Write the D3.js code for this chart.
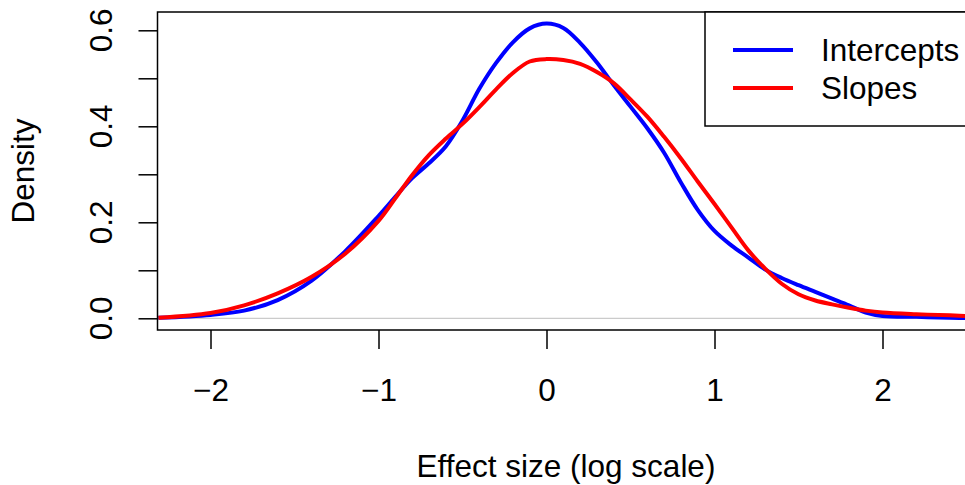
<!DOCTYPE html>
<html>
<head>
<meta charset="utf-8">
<script src="https://cdn.jsdelivr.net/npm/d3@7"></script>
<style>
  body { margin: 0; background: #fff; }
  text { font-family: "Liberation Sans", Arial, sans-serif; }
</style>
</head>
<body>
<div class="vis-density"></div>
<script>
// density curves
const xGrid = [-2.31, -2.0, -1.8, -1.6, -1.4, -1.2, -1.0, -0.9, -0.8, -0.7, -0.6, -0.5, -0.4, -0.3, -0.2, -0.1,
    0, 0.1, 0.2, 0.3, 0.4, 0.5, 0.6, 0.7, 0.8, 0.9, 1.0, 1.1, 1.2, 1.3, 1.4, 1.5, 1.6, 1.7, 1.8, 1.9, 2.0, 2.2, 2.4, 2.55];
const intercepts = [0.001, 0.007, 0.016, 0.038, 0.078, 0.139, 0.213, 0.253, 0.292, 0.323, 0.358, 0.412, 0.478, 0.532, 0.575, 0.604,
    0.614, 0.605, 0.574, 0.533, 0.486, 0.441, 0.396, 0.345, 0.283, 0.226, 0.182, 0.152, 0.127, 0.102, 0.084, 0.069, 0.055, 0.041, 0.027, 0.012, 0.005, 0.003, 0.001, 0.0];
const slopes = [0.001, 0.011, 0.027, 0.052, 0.086, 0.134, 0.203, 0.250, 0.298, 0.340, 0.374, 0.405, 0.440, 0.477, 0.511, 0.535,
    0.540, 0.538, 0.530, 0.513, 0.490, 0.456, 0.420, 0.378, 0.333, 0.285, 0.238, 0.19, 0.142, 0.104, 0.072, 0.050, 0.037, 0.029, 0.022, 0.016, 0.012, 0.0085, 0.0062, 0.004];
const xTicks = [-2, -1, 0, 1, 2];
const yTicks = [0, 0.1, 0.2, 0.3, 0.4, 0.5, 0.6];
const yLabels = [0, 0.2, 0.4, 0.6];
const seriesNames = ['Intercepts', 'Slopes'];
const seriesColors = ['#0000ff', '#ff0000'];

const W = 965, H = 485;
const fontSize = '31.5px';
// plot box (right side runs past the window, like the original)
const box = { left: 157.5, right: 974.5, top: 12, bottom: 330 };

const svg = d3.select('.vis-density')
    .append('svg')
    .attr('width', W)
    .attr('height', H);

const x = d3.scaleLinear()
    .domain([(box.left - 546.5) / 168, (box.right - 546.5) / 168])
    .range([box.left, box.right]);
const y = d3.scaleLinear()
    .domain([(318.3 - box.bottom) / 480, (318.3 - box.top) / 480])
    .range([box.bottom, box.top]);

svg.append('clipPath').attr('id', 'plotclip')
    .append('rect')
    .attr('x', box.left).attr('y', box.top)
    .attr('width', box.right - box.left).attr('height', box.bottom - box.top);

// zero line
svg.append('line')
    .attr('x1', box.left).attr('x2', box.right)
    .attr('y1', y(0)).attr('y2', y(0))
    .attr('stroke', '#bebebe')
    .attr('stroke-width', 1);

const line = d3.line()
    .x((d) => x(d[0]))
    .y((d) => y(d[1]))
    .curve(d3.curveCatmullRom.alpha(0.5));

const series = [intercepts, slopes];
series.forEach((vals, i) => {
    svg.append('path')
        .datum(xGrid.map((xv, j) => [xv, vals[j]]))
        .attr('d', line)
        .attr('fill', 'none')
        .attr('stroke', seriesColors[i])
        .attr('stroke-width', 4)
        .attr('stroke-linejoin', 'round')
        .attr('clip-path', 'url(#plotclip)');
});

// box
svg.append('rect')
    .attr('x', box.left).attr('y', box.top)
    .attr('width', box.right - box.left).attr('height', box.bottom - box.top)
    .attr('fill', 'none')
    .attr('stroke', '#000')
    .attr('stroke-width', 1.5);

// x axis
const xAxis = d3.axisBottom(x)
    .tickValues(xTicks)
    .tickSize(19)
    .tickFormat((d) => d < 0 ? '\u2212' + Math.abs(d) : d);
const gx = svg.append('g')
    .attr('transform', 'translate(0,' + box.bottom + ')')
    .call(xAxis);
gx.select('.domain').remove();
gx.selectAll('line').attr('stroke', '#000').attr('stroke-width', 1.5);
gx.selectAll('text')
    .attr('font-size', fontSize)
    .attr('font-family', '"Liberation Sans", Arial, sans-serif')
    .attr('fill', '#000')
    .attr('dy', null)
    .attr('y', 71);

// y axis
const yAxis = d3.axisLeft(y)
    .tickValues(yTicks)
    .tickSize(19)
    .tickFormat('');
const gy = svg.append('g')
    .attr('transform', 'translate(' + box.left + ',0)')
    .call(yAxis);
gy.select('.domain').remove();
gy.selectAll('line').attr('stroke', '#000').attr('stroke-width', 1.5);

svg.selectAll('.ylab')
    .data(yLabels)
    .enter()
    .append('text')
    .attr('class', 'ylab')
    .attr('transform', (d) => 'translate(112,' + y(d) + ') rotate(-90)')
    .attr('text-anchor', 'middle')
    .attr('font-size', fontSize)
    .text((d) => d.toFixed(1));

// axis titles
svg.append('text')
    .attr('x', (box.left + box.right) / 2)
    .attr('y', 477)
    .attr('text-anchor', 'middle')
    .attr('font-size', fontSize)
    .text('Effect size (log scale)');

svg.append('text')
    .attr('transform', 'translate(34,' + (box.top + box.bottom) / 2 + ') rotate(-90)')
    .attr('text-anchor', 'middle')
    .attr('font-size', fontSize)
    .text('Density');

// legend
const legend = svg.append('g');
legend.append('rect')
    .attr('x', 705).attr('y', box.top)
    .attr('width', 300).attr('height', 126 - box.top)
    .attr('fill', '#fff')
    .attr('stroke', '#000')
    .attr('stroke-width', 1.5);

seriesNames.forEach((name, i) => {
    const ly = 50 + i * 38;
    legend.append('line')
        .attr('x1', 733).attr('x2', 793)
        .attr('y1', ly).attr('y2', ly)
        .attr('stroke', seriesColors[i])
        .attr('stroke-width', 4);
    legend.append('text')
        .attr('x', 821)
        .attr('y', ly + 11)
        .attr('font-size', fontSize)
        .text(name);
});
</script>
</body>
</html>
